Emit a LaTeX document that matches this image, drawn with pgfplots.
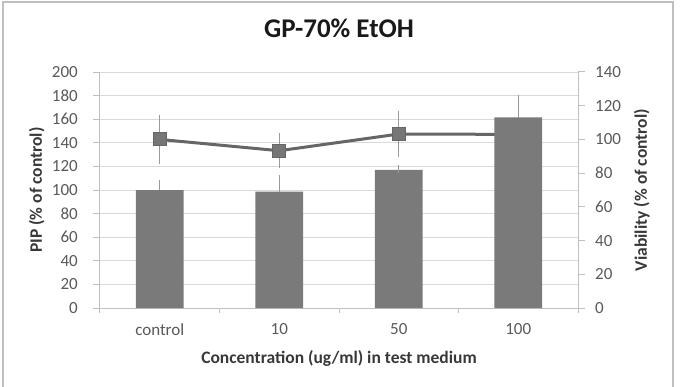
\documentclass[border=0pt]{standalone}
\usepackage{fontspec}
\setmainfont{Carlito}
\usepackage{pgfplots}
\usepackage{pgfplotstable}
\pgfplotsset{compat=1.18}

\definecolor{bargray}{HTML}{7A7A7A}
\definecolor{linegray}{HTML}{666666}
\definecolor{markgray}{HTML}{767676}
\definecolor{errgray}{HTML}{9A9A9A}
\definecolor{gridgray}{HTML}{D9D9D9}
\definecolor{axisgray}{HTML}{BFBFBF}
\definecolor{ticktext}{HTML}{595959}
\definecolor{labeltext}{HTML}{383838}
\definecolor{bordergray}{HTML}{C0C0C0}

\pgfplotsset{
  panel/.style={
    anchor=south west,
    scale only axis, width=478pt, height=236pt,
    xmin=-0.5, xmax=3.5,
    axis line style={axisgray, line width=1pt, -},
    tick style={axisgray, line width=1pt},
    tick align=outside,
    major tick length=7pt,
    minor tick length=5pt,
    /pgf/number format/assume math mode=true,
    ticklabel style={font=\fontsize{17}{20}\selectfont, text=ticktext},
    label style={font=\bfseries\fontsize{17.5}{20}\selectfont, text=labeltext},
  },
}

% PIP, % of control (bar height, upper error)
\pgfplotstableread{
x  pip    err
0  100    5
1  98.6   10.5
2  117    0.5
3  161.6  15.4
}\piptable
% viability, % of control (mean, error)
\pgfplotstableread{
x  via    err
0  100    12
1  93.3   8
2  103.2  11.5
3  103    10
}\viatable

\begin{document}
\begin{tikzpicture}[x=1pt,y=1pt]
% page area; the plot rectangle's lower left corner is the origin
\useasboundingbox (-100,-78) rectangle (582,308);
% chart area frame
\draw[bordergray, line width=2pt] (-97,-83) -- (-97,306) -- (572.5,306) -- (572.5,-83);

% primary axis: grid, category axis, titles
\begin{axis}[
  panel,
  ymin=0, ymax=200, ytick={0,20,...,200},
  axis x line*=bottom, axis y line*=left,
  xtick={0,1,2,3}, xticklabels={control,10,50,100},
  minor xtick={-0.5,0.5,1.5,2.5,3.5},
  major x tick style={draw=none},
  ymajorgrids, major grid style={gridgray, line width=1pt},
  yticklabel style={inner sep=0pt, xshift=-15pt},
  xticklabel style={inner sep=0pt, yshift=-8pt},
  xlabel={Concentration (ug/ml) in test medium},
  xlabel style={at={(axis description cs:0.5,-0.212)}, anchor=center},
  ylabel={PIP (\% of control)},
  ylabel style={at={(axis description cs:-0.1324,0.5)}, anchor=center},
  title={GP-70\% EtOH},
  title style={at={(axis description cs:0.5,1.161)}, anchor=center,
    font=\bfseries\fontsize{27}{30}\selectfont, text=black!90},
]
\end{axis}

% secondary axis: viability line
\begin{axis}[
  panel,
  ymin=0, ymax=140, ytick={0,20,...,140},
  axis y line*=right, axis x line=none,
  yticklabel style={inner sep=0pt, xshift=10pt},
  ylabel={Viability (\% of control)},
  ylabel style={at={(axis description cs:1.1333,0.5)}, anchor=center},
]
\addplot[linegray, line width=3pt,
  mark=square*, mark size=6.5pt,
  mark options={fill=markgray, draw=linegray, line width=1pt},
  error bars/.cd, y dir=both, y explicit,
  error bar style={errgray, line width=1pt},
  error mark options={errgray, line width=1pt, mark size=4pt}]
  table[x=x, y=via, y error=err] {\viatable};
\end{axis}

% PIP bars, drawn in front of the line on the primary scale
\begin{axis}[
  panel,
  ymin=0, ymax=200,
  hide axis,
]
\addplot[ybar, bar width=47.8pt, fill=bargray, draw=none,
  error bars/.cd, y dir=plus, y explicit,
  error bar style={errgray, line width=1pt},
  error mark options={errgray, line width=1pt, mark size=4pt}]
  table[x=x, y=pip, y error=err] {\piptable};
\end{axis}
\end{tikzpicture}
\end{document}
